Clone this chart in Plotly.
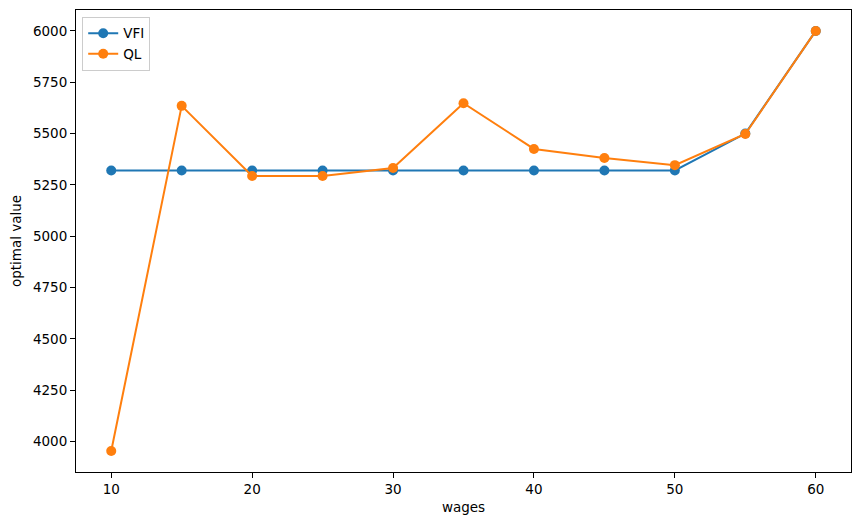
import plotly.graph_objects as go

wages = [10, 15, 20, 25, 30, 35, 40, 45, 50, 55, 60]
vfi = [5320, 5320, 5320, 5320, 5320, 5320, 5320, 5320, 5320, 5500, 6000]
ql = [3953, 5635, 5293, 5293, 5332, 5648, 5425, 5381, 5346, 5498, 6000]

fig = go.Figure()
fig.add_trace(go.Scatter(x=wages, y=vfi, mode="lines+markers", name="VFI",
                         line=dict(color="#1f77b4", width=2),
                         marker=dict(size=10, color="#1f77b4")))
fig.add_trace(go.Scatter(x=wages, y=ql, mode="lines+markers", name="QL",
                         line=dict(color="#ff7f0e", width=2),
                         marker=dict(size=10, color="#ff7f0e")))

axis_common = dict(showline=True, linecolor="black", linewidth=1, mirror=True,
                   ticks="outside", ticklen=5, tickcolor="black", showgrid=False,
                   zeroline=False, tickfont=dict(size=13.5, color="black"))
fig.update_xaxes(range=[7.5, 62.5], tickvals=[10, 20, 30, 40, 50, 60],
                 title=dict(text="wages", font=dict(size=13.5, color="black"), standoff=6),
                 **axis_common)
fig.update_yaxes(range=[3851, 6102], tickvals=[4000, 4250, 4500, 4750, 5000, 5250, 5500, 5750, 6000],
                 title=dict(text="optimal value", font=dict(size=13.5, color="black"), standoff=8),
                 **axis_common)

fig.update_layout(
    width=860, height=525,
    margin=dict(l=76, r=9, t=10, b=53),
    plot_bgcolor="white", paper_bgcolor="white",
    font=dict(family="DejaVu Sans", size=13.5, color="black"),
    legend=dict(x=0.008, y=0.985, xanchor="left", yanchor="top",
                bordercolor="#cccccc", borderwidth=1, bgcolor="rgba(255,255,255,0.8)",
                font=dict(size=13.5), itemwidth=30),
    showlegend=True,
)
fig.write_html("out.html")
